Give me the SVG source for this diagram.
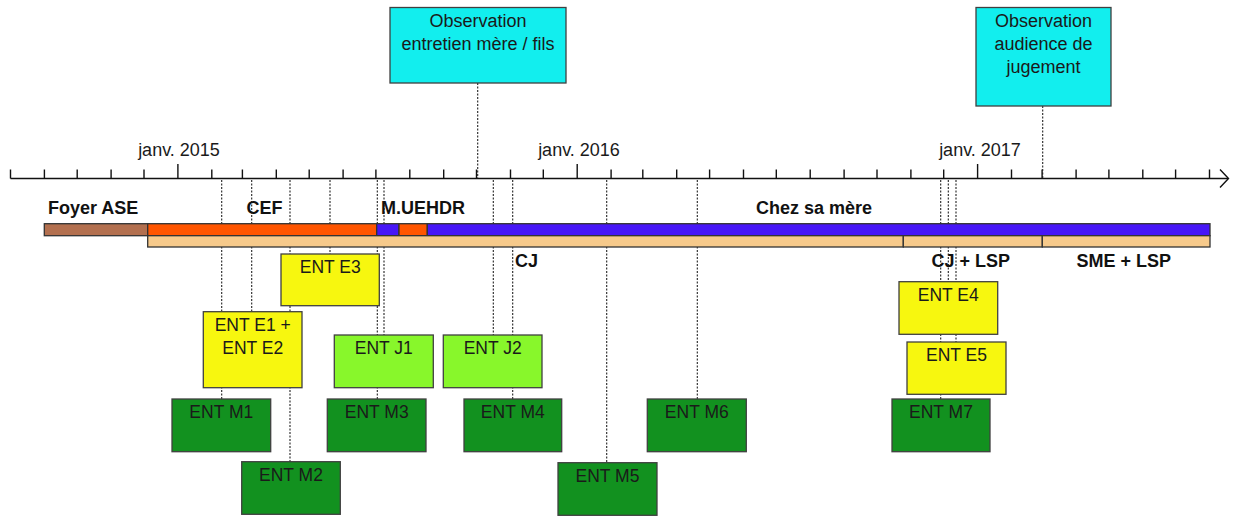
<svg xmlns="http://www.w3.org/2000/svg" width="1234" height="517" viewBox="0 0 1234 517">
<style>
  text { font-family: "Liberation Sans", Arial, sans-serif; fill: #1a1a1a; }
  .tl { font-size: 18px; text-anchor: middle; }
  .lab { font-size: 18px; font-weight: bold; fill: #111; }
  .box { stroke: #404040; stroke-width: 1.3; }
  .bt { font-size: 17.5px; text-anchor: middle; }
  .obs { fill: #12EEEE; }
  .e { fill: #F7F70F; }
  .j { fill: #88F72B; }
  .m { fill: #12911F; }
  .bar { stroke: #333; stroke-width: 1.3; }
  .dot { stroke: #222; stroke-width: 1.1; stroke-dasharray: 2 1.5; fill: none; }
  .axis { stroke: #111; stroke-width: 1.4; fill: none; }
</style>
<rect width="1234" height="517" fill="#ffffff"/>

<g id="axis">
  <path class="axis" d="M10.5 178.5 H1228"/>
  <path class="axis" d="M1220 169.5 L1228.5 178.5 L1220 187.5"/>
  <path class="axis" d="M10.5 169.5V178.5 M44.4 169.5V178.5 M77.2 169.5V178.5 M111.1 169.5V178.5 M144 169.5V178.5 M177.9 164V178.5 M211.8 169.5V178.5 M242.4 169.5V178.5 M276.3 169.5V178.5 M309.2 169.5V178.5 M343.1 169.5V178.5 M375.9 169.5V178.5 M409.8 169.5V178.5 M443.7 169.5V178.5 M476.5 169.5V178.5 M510.5 169.5V178.5 M543.3 169.5V178.5 M577.2 164V178.5 M611.1 169.5V178.5 M642.8 169.5V178.5 M676.7 169.5V178.5 M709.6 169.5V178.5 M743.5 169.5V178.5 M776.3 169.5V178.5 M810.2 169.5V178.5 M844.1 169.5V178.5 M877 169.5V178.5 M910.9 169.5V178.5 M943.7 169.5V178.5 M977.6 164V178.5 M1011.5 169.5V178.5 M1042.1 169.5V178.5 M1076.1 169.5V178.5 M1108.9 169.5V178.5 M1142.8 169.5V178.5 M1175.6 169.5V178.5 M1209.5 169.5V178.5"/>
  <text class="tl" x="179" y="156">janv. 2015</text>
  <text class="tl" x="579" y="156">janv. 2016</text>
  <text class="tl" x="980" y="156">janv. 2017</text>
</g>

<g id="connectors">
  <path class="dot" d="M477.7 83 V178"/>
  <path class="dot" d="M1042.7 106 V178"/>
  <path class="dot" d="M221.7 180 V399"/>
  <path class="dot" d="M251.7 180 V312"/>
  <path class="dot" d="M290 180 V462"/>
  <path class="dot" d="M330 180 V254"/>
  <path class="dot" d="M377.3 180 V399"/>
  <path class="dot" d="M384 180 V335"/>
  <path class="dot" d="M493.3 180 V335"/>
  <path class="dot" d="M512.7 180 V399"/>
  <path class="dot" d="M606.7 180 V463"/>
  <path class="dot" d="M697.3 180 V399"/>
  <path class="dot" d="M940.7 180 V399"/>
  <path class="dot" d="M948.3 180 V282"/>
  <path class="dot" d="M956 180 V342"/>
</g>

<g id="periods">
  <rect class="bar" x="44.3" y="223.7" width="103.4" height="12" fill="#B3704F"/>
  <rect class="bar" x="147.7" y="223.7" width="229" height="12" fill="#FF5500"/>
  <rect class="bar" x="376.7" y="223.7" width="22.3" height="12" fill="#4716F7"/>
  <rect class="bar" x="399" y="223.7" width="28.3" height="12" fill="#FF5500"/>
  <rect class="bar" x="427.3" y="223.7" width="782.7" height="12" fill="#4716F7"/>
  <rect class="bar" x="147.7" y="235.7" width="755.6" height="11.3" fill="#F7CA8B"/>
  <rect class="bar" x="903.3" y="235.7" width="139" height="11.3" fill="#F7CA8B"/>
  <rect class="bar" x="1042.3" y="235.7" width="167.7" height="11.3" fill="#F7CA8B"/>
  <text class="lab" x="48" y="214">Foyer ASE</text>
  <text class="lab" x="246.5" y="214">CEF</text>
  <text class="lab" x="381" y="214">M.UEHDR</text>
  <text class="lab" x="756" y="214">Chez sa mère</text>
  <text class="lab" x="515" y="266.5">CJ</text>
  <text class="lab" x="931.5" y="266.5">CJ + LSP</text>
  <text class="lab" x="1076.5" y="266.5">SME + LSP</text>
</g>

<g id="obs1">
  <rect class="box obs" x="390" y="7.5" width="176" height="75.5"/>
  <text class="tl" x="478" y="26.7">Observation</text>
  <text class="tl" x="478" y="50">entretien mère / fils</text>
</g>
<g id="obs2">
  <rect class="box obs" x="976" y="7.5" width="135" height="98.5"/>
  <text class="tl" x="1043.5" y="26.7">Observation</text>
  <text class="tl" x="1043.5" y="50">audience de</text>
  <text class="tl" x="1043.5" y="72.7">jugement</text>
</g>

<g id="ent-e3">
  <rect class="box e" x="281" y="254" width="98.3" height="51.7"/>
  <text class="bt" x="330.2" y="273">ENT E3</text>
</g>
<g id="ent-e1-e2">
  <rect class="box e" x="203.3" y="311.7" width="98.7" height="76"/>
  <text class="bt" x="252.7" y="331">ENT E1 +</text>
  <text class="bt" x="252.7" y="354">ENT E2</text>
</g>
<g id="ent-j1">
  <rect class="box j" x="334.3" y="335" width="99" height="52.7"/>
  <text class="bt" x="383.8" y="354">ENT J1</text>
</g>
<g id="ent-j2">
  <rect class="box j" x="443.3" y="335" width="98.7" height="52.7"/>
  <text class="bt" x="492.7" y="354">ENT J2</text>
</g>
<g id="ent-m1">
  <rect class="box m" x="172" y="399" width="98.7" height="52.7"/>
  <text class="bt" x="221.3" y="418.3">ENT M1</text>
</g>
<g id="ent-m2">
  <rect class="box m" x="241.7" y="461.7" width="98.6" height="52.6"/>
  <text class="bt" x="291" y="481">ENT M2</text>
</g>
<g id="ent-m3">
  <rect class="box m" x="327.3" y="399" width="98.7" height="52.7"/>
  <text class="bt" x="376.7" y="418.3">ENT M3</text>
</g>
<g id="ent-m4">
  <rect class="box m" x="464" y="399" width="97.7" height="52.7"/>
  <text class="bt" x="512.8" y="418.3">ENT M4</text>
</g>
<g id="ent-m5">
  <rect class="box m" x="558" y="462.7" width="99" height="52.6"/>
  <text class="bt" x="607.5" y="482">ENT M5</text>
</g>
<g id="ent-m6">
  <rect class="box m" x="647.3" y="399" width="99" height="52.7"/>
  <text class="bt" x="696.8" y="418.3">ENT M6</text>
</g>
<g id="ent-e4">
  <rect class="box e" x="899" y="281.7" width="98.7" height="52.6"/>
  <text class="bt" x="948.3" y="300.5">ENT E4</text>
</g>
<g id="ent-e5">
  <rect class="box e" x="907" y="342" width="99" height="52.3"/>
  <text class="bt" x="956.5" y="361">ENT E5</text>
</g>
<g id="ent-m7">
  <rect class="box m" x="892" y="399" width="98" height="52.7"/>
  <text class="bt" x="941" y="418.3">ENT M7</text>
</g>
</svg>
